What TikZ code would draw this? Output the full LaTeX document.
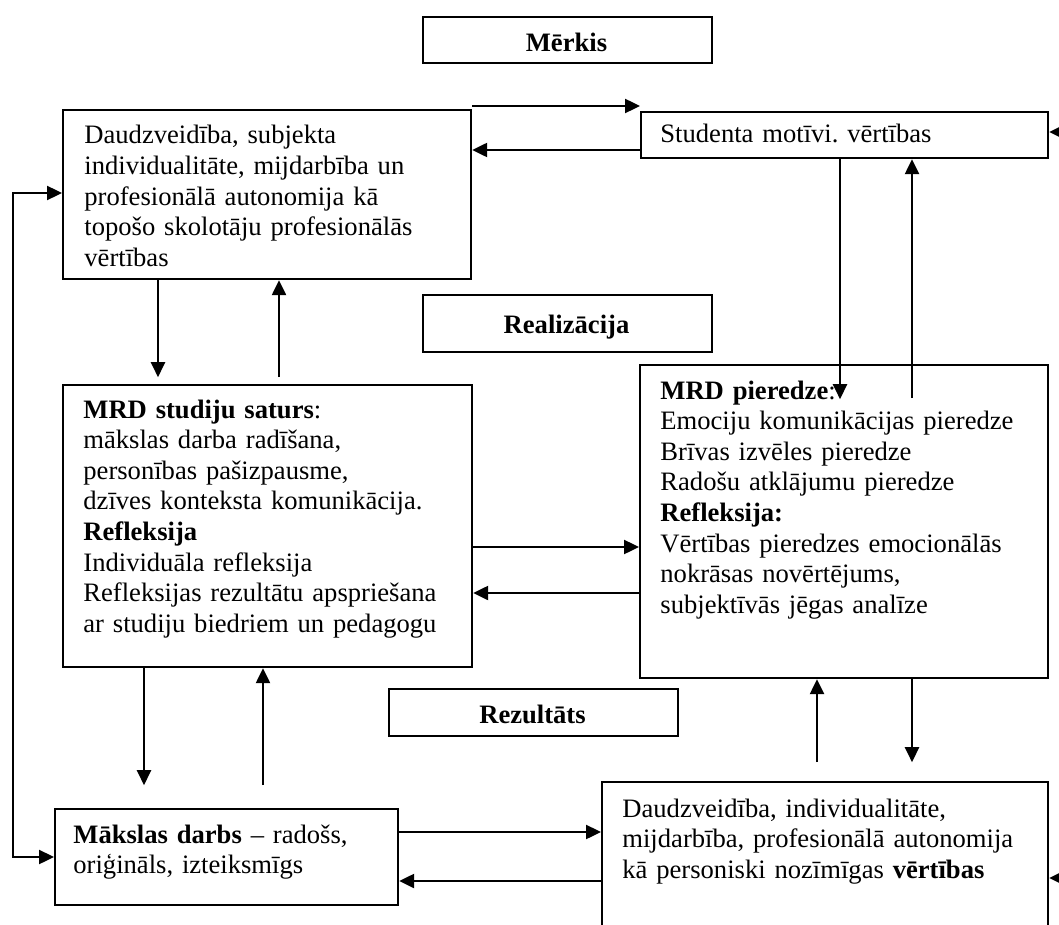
\documentclass[tikz,border=0pt]{standalone}
\usepackage{fontspec}
\setmainfont{Liberation Serif}
\usetikzlibrary{arrows.meta}
\frenchspacing
\tikzset{
  box/.style={draw, line width=1.1pt, inner sep=0pt, anchor=north west, fill=none},
  txt/.style={anchor=base west, inner sep=0pt, text width=260pt, align=left,
     font=\fontsize{13.3}{15.3}\selectfont},
  head/.style={anchor=base, inner sep=0pt, font=\fontsize{13.3}{15.3}\selectfont\bfseries},
  arr/.style={line width=1.2pt, -{Triangle[length=7.5pt,width=7pt]}},
  arrb/.style={line width=1.2pt, {Triangle[length=7.5pt,width=7pt]}-{Triangle[length=7.5pt,width=7pt]}}
}
\begin{document}
\begin{tikzpicture}[x=0.5pt,y=-0.5pt]
\path[use as bounding box] (0,0) rectangle (1059,925);
\clip (0,0) rectangle (1059,925);
% boxes
\node[box, minimum width=144.5pt, minimum height=23pt] (merk) at (422,16) {};
\node[head] (merkt) at (566.5,52) {Mērkis};
\node[box, minimum width=204pt, minimum height=84.5pt] (tl) at (62,109) {};
\node[txt] (tlt) at (84,144) {Daudzveidība, subjekta\\ individualitāte, mijdarbība un\\ profesionālā autonomija kā\\ topošo skolotāju profesionālās\\ vērtības};
\node[box, minimum width=203.5pt, minimum height=23pt] (stud) at (640,111) {};
\node[txt] (studt) at (660,143) {Studenta motīvi. vērtības};
\node[box, minimum width=144.5pt, minimum height=28.5pt] (real) at (422,294) {};
\node[head] (realt) at (566.5,333) {Realizācija};
\node[box, minimum width=204.5pt, minimum height=141pt] (mrds) at (62,384) {};
\node[txt] (mrdst) at (83,418) {\textbf{MRD studiju saturs}:\\ mākslas darba radīšana,\\ personības pašizpausme,\\ dzīves konteksta komunikācija.\\ \textbf{Refleksija}\\ Individuāla refleksija\\ Refleksijas rezultātu apspriešana\\ ar studiju biedriem un pedagogu};
\node[box, minimum width=204pt, minimum height=156.5pt] (mrdp) at (639,364) {};
\node[txt] (mrdpt) at (660,399) {\textbf{MRD pieredze}:\\ Emociju komunikācijas pieredze\\ Brīvas izvēles pieredze\\ Radošu atklājumu pieredze\\ \textbf{Refleksija:}\\ Vērtības pieredzes emocionālās\\ nokrāsas novērtējums,\\ subjektīvās jēgas analīze};
\node[box, minimum width=144.5pt, minimum height=23.5pt] (rez) at (388,688) {};
\node[head] (rezt) at (532.5,723) {Rezultāts};
\node[box, minimum width=171.5pt, minimum height=48pt] (mak) at (54,808) {};
\node[txt] (makt) at (73,843) {\textbf{Mākslas darbs} – radošs,\\ oriģināls, izteiksmīgs};
\node[box, minimum width=223pt, minimum height=89.5pt] (br) at (601,781) {};
\node[txt] (brt) at (622,817) {Daudzveidība, individualitāte,\\ mijdarbība, profesionālā autonomija\\ kā personiski nozīmīgas \textbf{vērtības}};
% connectors
\draw[arr] (tl.east |- 0,106) -- (stud.west |- 0,106);
\draw[arr] (stud.west |- 0,150) -- (tl.east |- 0,150);
\coordinate (inS) at (1075,132);
\draw[arr] (inS) -- (stud.east |- inS);
\draw[arr] (stud.south -| 840,0) -- ++(0,240);
\draw[arr] (mrdp.north -| 912,0) ++(0,34) -- (stud.south -| 912,0);
\draw[arr] (tl.south -| 158,0) -- ++(0,97);
\draw[arr] (mrds.north -| 279,0) ++(0,-7) -- (tl.south -| 279,0);
\draw[arr] (mrds.east |- 0,547) -- (mrdp.west |- 0,547);
\draw[arr] (mrdp.west |- 0,593) -- (mrds.east |- 0,593);
\draw[arr] (mrds.south -| 144,0) -- ++(0,117);
\draw[arr] (mak.north -| 263,0) ++(0,-23) -- (mrds.south -| 263,0);
\draw[arr] (br.north -| 817,0) ++(0,-19) -- (mrdp.south -| 817,0);
\draw[arr] (mrdp.south -| 912,0) -- ++(0,83);
\draw[arr] (mak.east |- 0,832) -- (br.west |- 0,832);
\draw[arr] (br.west |- 0,881) -- (mak.east |- 0,881);
\coordinate (inB) at (1075,878);
\draw[arr] (inB) -- (br.east |- inB);
\draw[arrb] (tl.west |- 0,193) -- (13,193) -- (13,857) -- (mak.west |- 0,857);
\end{tikzpicture}
\end{document}
